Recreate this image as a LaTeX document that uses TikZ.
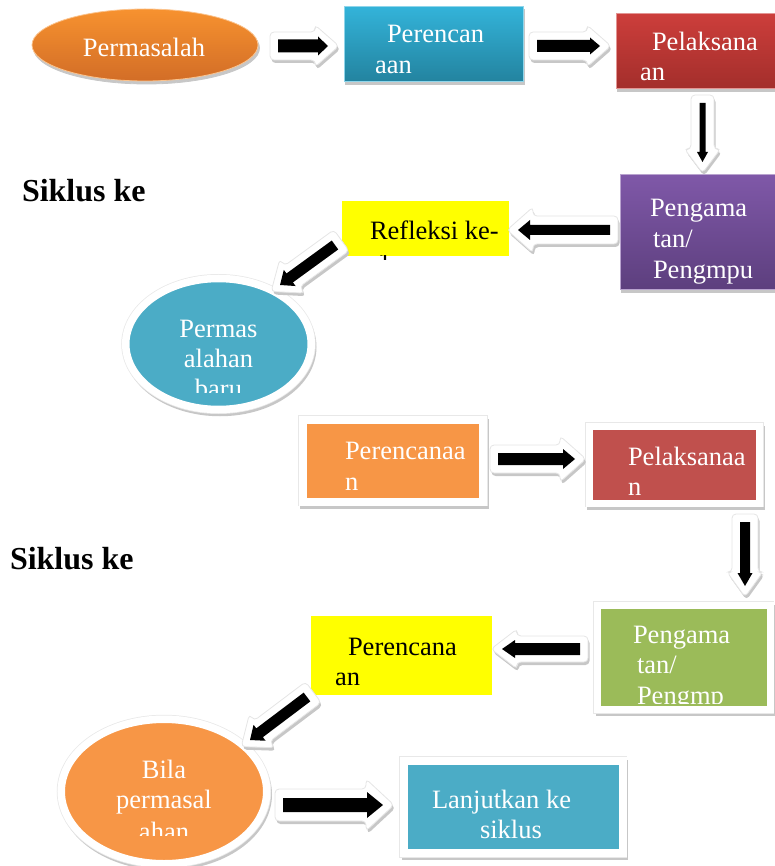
\documentclass[tikz,border=0pt]{standalone}
\usepackage{fontspec}
\setmainfont{Liberation Serif}
\usetikzlibrary{calc,shapes.geometric,shadows}
\definecolor{orgT}{HTML}{F7922F}
\definecolor{orgB}{HTML}{D26D27}
\definecolor{bluT}{HTML}{33B3D9}
\definecolor{bluB}{HTML}{23839F}
\definecolor{redT}{HTML}{CC3E3B}
\definecolor{redB}{HTML}{A32E2B}
\definecolor{purT}{HTML}{7F58A8}
\definecolor{purB}{HTML}{5D3F7E}
\definecolor{yel}{HTML}{FFFF00}
\definecolor{bluF}{HTML}{4BACC6}
\definecolor{orgF}{HTML}{F79646}
\definecolor{redF}{HTML}{C0504D}
\definecolor{grnF}{HTML}{9BBB59}
\tikzset{
  dshadow/.style={drop shadow={shadow xshift=1.5pt, shadow yshift=-3pt, opacity=1, fill=black!22, draw=black!22}},
  txt/.style={inner sep=0pt, outer sep=0pt, font=\fontsize{26.5}{30}\selectfont, text=white},
  txtd/.style={txt, text=black},
  headtxt/.style={inner sep=0pt, outer sep=0pt, font=\fontsize{32}{36}\selectfont\bfseries, text=black, anchor=base west},
  gbox/.style={rectangle, inner sep=0pt, outer sep=0pt, anchor=north west, line width=1pt, dshadow},
  fbox/.style 2 args={rectangle, inner sep=0pt, outer sep=0pt, anchor=north west, draw=white,
      line width=#1, dshadow, preaction={draw=black!9, line width=#2}},
  ybox/.style={rectangle, inner sep=0pt, outer sep=0pt, anchor=north west, fill=yel},
  oval/.style={ellipse, inner sep=0pt, outer sep=0pt, dshadow},
  woval/.style={oval, draw=white, line width=7.5pt, preaction={draw=black!9, line width=9pt}},
}
% #1 start, #2 tip, #3 shaft half, #4 head half, #5 head length,
% #6 white shaft half, #7 white head half, #8 white head length
\newcommand\blockarr[8]{%
  \coordinate (bkA) at (#1);
  \coordinate (bkB) at (#2);
  \coordinate (bkH) at ($(bkB)!#5!(bkA)$);
  \coordinate (wkA) at ($(bkA)!-8pt!(bkB)$);
  \coordinate (wkB) at ($(bkB)!-11pt!(bkA)$);
  \coordinate (wkH) at ($(wkB)!#8!(wkA)$);
  \fill[black!22, rounded corners=4pt, transform canvas={shift={(1.5pt,-3pt)}}]
    ($(wkA)!#6!90:(wkB)$) -- ($(wkH)!#6!90:(wkB)$) -- ($(wkH)!#7!90:(wkB)$) -- (wkB)
    -- ($(wkH)!#7!-90:(wkB)$) -- ($(wkH)!#6!-90:(wkB)$) -- ($(wkA)!#6!-90:(wkB)$) -- cycle;
  \filldraw[fill=white, draw=black!10, line width=.8pt, rounded corners=4pt]
    ($(wkA)!#6!90:(wkB)$) -- ($(wkH)!#6!90:(wkB)$) -- ($(wkH)!#7!90:(wkB)$) -- (wkB)
    -- ($(wkH)!#7!-90:(wkB)$) -- ($(wkH)!#6!-90:(wkB)$) -- ($(wkA)!#6!-90:(wkB)$) -- cycle;
  \fill[black]
    ($(bkA)!#3!90:(bkB)$) -- ($(bkH)!#3!90:(bkB)$) -- ($(bkH)!#4!90:(bkB)$) -- (bkB)
    -- ($(bkH)!#4!-90:(bkB)$) -- ($(bkH)!#3!-90:(bkB)$) -- ($(bkA)!#3!-90:(bkB)$) -- cycle;
}
\begin{document}
\begin{tikzpicture}[x=1pt,y=-1pt]
\useasboundingbox (0,0) rectangle (774,866);

% ---------- first cycle ----------
\node[oval, minimum width=226pt, minimum height=72pt, top color=orgT, bottom color=orgB,
      draw=orgT!55!white, line width=.8pt] (perm) at (145,45) {};
\node[gbox, minimum width=179pt, minimum height=75pt, top color=bluT, bottom color=bluB,
      draw=bluT!55!white] (ren1) at (344,7) {};
\node[gbox, minimum width=162pt, minimum height=75pt, top color=redT, bottom color=redB,
      draw=redT!55!white] (lak1) at (616,14) {};
\node[gbox, minimum width=156pt, minimum height=114pt, top color=purT, bottom color=purB,
      draw=purT!55!white] (amat1) at (620,175) {};
\node[ybox, minimum width=167pt, minimum height=55pt] (ref) at (342,201) {};
\node[woval, fill=bluF, minimum width=185.5pt, minimum height=131pt] (baru) at (218.5,344) {};

% ---------- second cycle ----------
\node[fbox={8pt}{9.5pt}, fill=orgF, minimum width=180.5pt, minimum height=81.5pt] (ren2) at (302.5,420) {};
\node[fbox={7pt}{8.5pt}, fill=redF, minimum width=170.5pt, minimum height=77pt] (lak2) at (589,426) {};
\node[fbox={7pt}{8.5pt}, fill=grnF, minimum width=172.5pt, minimum height=104.5pt] (amat2) at (597.5,605) {};
\node[ybox, minimum width=181pt, minimum height=79pt] (ren3) at (311,616) {};
\node[woval, fill=orgF, minimum width=205.5pt, minimum height=144.5pt] (bila) at (164,791.5) {};
\node[fbox={8pt}{9.5pt}, fill=bluF, minimum width=218.5pt, minimum height=92pt] (lanj) at (404,761) {};

% ---------- headings ----------
\node[headtxt] (sik1) at (22,202) {Siklus ke};
\node[headtxt] (sik2) at (10,569) {Siklus ke};

% ---------- texts ----------
\node[txt, anchor=base] (tperm) at (144,57) {Permasalah};
\node[txt, anchor=base west] (tren1a) at (387,43) {Perencan};
\node[txt, anchor=base west] (tren1b) at (375,74) {aan};
\node[txt, anchor=base west] (tlak1a) at (652,51) {Pelaksana};
\node[txt, anchor=base west] (tlak1b) at (640,81) {an};
\node[txt, anchor=base west] (tam1a) at (650,217) {Pengama};
\node[txt, anchor=base west] (tam1b) at (653,248) {tan/};
\node[txt, anchor=base west] (tam1c) at (653,278) {Pengmpu};
\node[txtd, anchor=base west] (tref1) at (370,240) {Refleksi ke-};
\begin{scope}
  \clip (300,256) rectangle (520,259.5);
  \node[txtd, anchor=base west] (tref2) at (378,270) {1};
\end{scope}
\begin{scope}
  \clip (120,270) rectangle (320,392);
  \node[txt, anchor=base] (tbaru1) at (218.5,337) {Permas};
  \node[txt, anchor=base] (tbaru2) at (218.5,367) {alahan};
  \node[txt, anchor=base] (tbaru3) at (218.5,397) {baru};
\end{scope}
\node[txt, anchor=base west] (tren2a) at (345,459) {Perencanaa};
\node[txt, anchor=base west] (tren2b) at (345,490) {n};
\node[txt, anchor=base west] (tlak2a) at (628,465) {Pelaksanaa};
\node[txt, anchor=base west] (tlak2b) at (628,495) {n};
\node[txt, anchor=base west] (tam2a) at (633,643) {Pengama};
\node[txt, anchor=base west] (tam2b) at (637,673) {tan/};
\begin{scope}
  \clip (600,600) rectangle (774,703);
  \node[txt, anchor=base west] (tam2c) at (637,704) {Pengmp};
\end{scope}
\node[txtd, anchor=base west] (tren3a) at (348,655) {Perencana};
\node[txtd, anchor=base west] (tren3b) at (335,685) {an};
\begin{scope}
  \clip (60,720) rectangle (270,835);
  \node[txt, anchor=base] (tbila1) at (164,778) {Bila};
  \node[txt, anchor=base] (tbila2) at (164,808) {permasal};
  \node[txt, anchor=base] (tbila3) at (164,840) {ahan};
\end{scope}
\node[txt, anchor=base west] (tlanj1) at (432,808) {Lanjutkan ke};
\node[txt, anchor=base west] (tlanj2) at (480,838) {siklus};

% ---------- block arrows ----------
\blockarr{$(perm.east)+(20,1)$}{$(ren1.west)+(-16,1.5)$}{6.5pt}{9.5pt}{10pt}{14pt}{21pt}{24pt}
\blockarr{$(ren1.east)+(14,1.5)$}{$(lak1.west)+(-16,-5.5)$}{6pt}{8.5pt}{10pt}{14pt}{21pt}{24pt}
\blockarr{$(lak1.south)+(5.5,14)$}{$(amat1.north)+(4.5,-13)$}{3pt}{5.5pt}{10pt}{11.5pt}{18pt}{24pt}
\blockarr{$(amat1.west)+(-10,-2)$}{$(ref.east)+(9,1.5)$}{5pt}{10pt}{12pt}{14pt}{23pt}{26pt}
\blockarr{$(ref.south west)+(-7,-11)$}{$(baru.center)+(61.5,-59)$}{5.5pt}{10pt}{12pt}{13pt}{21pt}{26pt}
\blockarr{$(ren2.east)+(15,-1.75)$}{$(lak2.west)+(-14,-5.5)$}{6pt}{10pt}{12pt}{14pt}{23pt}{26pt}
\blockarr{$(lak2.south east)+(-14.5,19)$}{$(amat2.north east)+(-25,-19)$}{5pt}{7.5pt}{13pt}{13pt}{18pt}{25pt}
\blockarr{$(amat2.west)+(-17.5,-8.25)$}{$(ren3.east)+(10,-6.5)$}{6pt}{9pt}{13pt}{13pt}{20pt}{26pt}
\blockarr{$(ren3.south west)+(-4,2)$}{$(bila.center)+(86,-51.5)$}{5.5pt}{10pt}{12pt}{13pt}{21pt}{26pt}
\blockarr{$(bila.east)+(16.25,13.5)$}{$(lanj.west)+(-21,-2)$}{7pt}{13pt}{16pt}{16pt}{26pt}{28pt}
\end{tikzpicture}
\end{document}
